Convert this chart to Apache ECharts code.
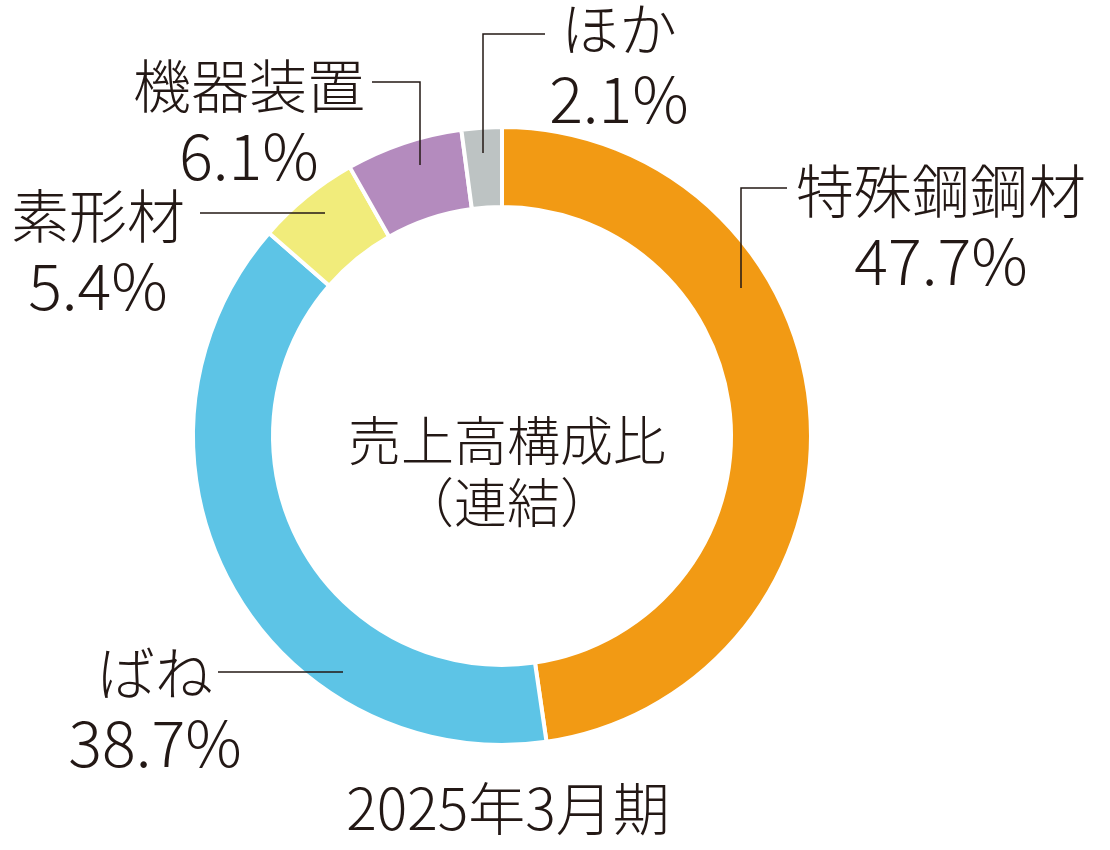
<!DOCTYPE html>
<html>
<head>
<meta charset="utf-8">
<script src="https://cdn.jsdelivr.net/npm/echarts@6/dist/echarts.min.js"></script>
<style>
  html, body { margin: 0; padding: 0; background: #fff; }
  #main { width: 1110px; height: 850px; }
</style>
</head>
<body>
<div id="main"></div>
<script>
// 売上高構成比（連結） 2025年3月期
var segments = ['特殊鋼鋼材', 'ばね', '素形材', '機器装置', 'ほか'];
var shares = [47.7, 38.7, 5.4, 6.1, 2.1];
var colors = ['#F29A14', '#5DC4E6', '#F1EC7B', '#B48BBE', '#BDC3C3'];

// ラベル位置と引出線（テキスト中心・折れ線の点）
var labelPos = [
  { x: 941, y: 226, line: [[741, 288], [741, 188], [787, 188]] },
  { x: 155, y: 708, line: [[343, 672], [280, 672], [218, 672]] },
  { x: 98,  y: 251, line: [[325, 213], [260, 213], [200, 213]] },
  { x: 249, y: 121, line: [[420, 165], [420, 82], [372, 82]] },
  { x: 619, y: 64,  line: [[483, 153], [483, 34], [545, 34]] }
];

var textColor = '#231815';
var font = '"Noto Sans CJK JP", "Noto Sans", sans-serif';
var pieData = segments.map(function (name, i) { return { name: name, value: shares[i] }; });

var myChart = echarts.init(document.getElementById('main'));

var option = {
  animation: false,
  color: colors,
  title: [
    {
      text: '売上高構成比\n（連結）',
      left: 502, top: 405, textAlign: 'center',
      textStyle: { fontFamily: font, fontSize: 53, fontWeight: 300, color: textColor, lineHeight: 62 }
    },
    {
      text: '2025年3月期',
      left: 503, top: 775, textAlign: 'center',
      textStyle: { fontFamily: font, fontSize: 57, fontWeight: 300, color: textColor }
    }
  ],
  series: [
    {
      // リング本体
      type: 'pie',
      z: 2,
      center: [502, 436],
      radius: [229, 309],
      startAngle: 90,
      clockwise: true,
      itemStyle: { borderColor: '#fff', borderWidth: 4 },
      label: { show: false },
      labelLine: { show: false },
      emphasis: { disabled: true },
      data: pieData
    },
    {
      // ラベルと引出線（リングの上に描く）
      type: 'pie',
      z: 5,
      center: [502, 436],
      radius: [229, 309],
      startAngle: 90,
      clockwise: true,
      itemStyle: { color: 'rgba(0,0,0,0)', borderWidth: 0 },
      label: {
        show: true,
        width: 400,
        overflow: 'none',
        formatter: '{n|{b}}\n{p|{c}%}',
        align: 'center',
        rich: {
          n: { fontFamily: font, fontSize: 58, fontWeight: 300, color: textColor, lineHeight: 70, align: 'center' },
          p: { fontFamily: font, fontSize: 63, fontWeight: 300, color: textColor, lineHeight: 70, align: 'center' }
        }
      },
      labelLine: { show: true, lineStyle: { color: textColor, width: 1.5 } },
      labelLayout: function (params) {
        var p = labelPos[params.dataIndex];
        return { x: p.x, y: p.y, align: 'center', verticalAlign: 'middle', labelLinePoints: p.line };
      },
      emphasis: { disabled: true },
      tooltip: { show: false },
      data: pieData
    }
  ]
};

myChart.setOption(option);
</script>
</body>
</html>
